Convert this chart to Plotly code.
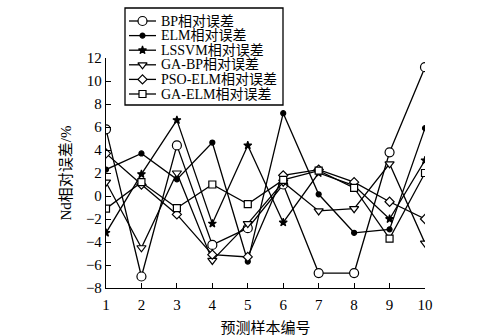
import plotly.graph_objects as go

# Sample index (x axis)
samples = [1, 2, 3, 4, 5, 6, 7, 8, 9, 10]

# Relative error (%) of each model on the Nd prediction samples
bp_err = [5.8, -7.0, 4.4, -4.25, -2.8, 1.0, -6.7, -6.7, 3.8, 11.2]
elm_err = [2.3, 3.7, 1.45, 4.65, -5.7, 7.2, 0.15, -3.2, -2.9, 5.9]
lssvm_err = [-3.2, 1.9, 6.6, -2.4, 4.4, -2.3, 2.0, 0.9, -2.0, 3.1]
gabp_err = [1.2, -4.5, 2.0, -5.6, -2.4, 1.2, -1.3, -1.1, 2.8, -4.1]
psoelm_err = [3.7, 1.0, -1.6, -5.1, -5.3, 1.8, 2.3, 1.2, -0.5, -2.0]
gaelm_err = [-1.1, 1.2, -1.05, 1.0, -0.7, 1.4, 2.2, 0.7, -3.7, 2.0]

series_names = ["BP相对误差", "ELM相对误差", "LSSVM相对误差",
                "GA-BP相对误差", "PSO-ELM相对误差", "GA-ELM相对误差"]
y_ticks = [-8, -6, -4, -2, 0, 2, 4, 6, 8, 10, 12]

FONT = "Liberation Serif, Times New Roman, Noto Sans CJK SC, serif"

W, H = 494, 336
ML, MR, MB = 106, 69, 48
PLOT_TOP = 58            # pixel row of the top of the y axis
AREA_H = H - MB          # plotting area height (top margin is zero)
X_RANGE = [1, 10]
Y_RANGE = [-8, 12]

# Hollow markers are white-filled so the connecting line does not show through
styles = [
    dict(symbol="circle", size=9, fill="white"),
    dict(symbol="circle", size=5, fill="black"),
    dict(symbol="star", size=6, fill="black"),
    dict(symbol="triangle-down", size=8, fill="white"),
    dict(symbol="diamond", size=7, fill="white"),
    dict(symbol="square", size=7, fill="white"),
]
all_series = [bp_err, elm_err, lssvm_err, gabp_err, psoelm_err, gaelm_err]


def marker_of(st):
    return dict(symbol=st["symbol"], size=st["size"], color=st["fill"],
                line=dict(color="black", width=1.2))


fig = go.Figure()
for name, vals, st in zip(series_names, all_series, styles):
    fig.add_trace(go.Scatter(
        x=samples, y=vals, name=name, mode="lines+markers", showlegend=False,
        line=dict(color="black", width=1.3),
        marker=marker_of(st),
    ))

# Legend: framed box in an invisible pixel-unit subplot (x2/y2) spanning the whole area
box_l, box_r, box_t, box_b = 125, 283, 8, 105
row0, row_step = 21, 14.6
samp_l, samp_r, text_x = 129, 156, 159

shapes = [dict(type="rect", xref="x2", yref="y2", x0=box_l, x1=box_r, y0=box_t, y1=box_b,
               line=dict(color="black", width=1.3), fillcolor="white", layer="below")]
annotations = []
for i, (name, st) in enumerate(zip(series_names, styles)):
    py = row0 + i * row_step
    shapes.append(dict(type="line", xref="x2", yref="y2", x0=samp_l, x1=samp_r, y0=py, y1=py,
                       line=dict(color="black", width=1.3), layer="below"))
    annotations.append(dict(xref="x2", yref="y2", x=text_x, y=py, text=name,
                            xanchor="left", yanchor="middle", showarrow=False,
                            font=dict(family=FONT, size=14, color="black")))
    fig.add_trace(go.Scatter(
        x=[(samp_l + samp_r) / 2], y=[py], xaxis="x2", yaxis="y2",
        mode="markers", showlegend=False, hoverinfo="skip", marker=marker_of(st),
    ))

fig.update_layout(
    width=W, height=H,
    margin=dict(l=ML, r=MR, t=0, b=MB),
    paper_bgcolor="white", plot_bgcolor="rgba(0,0,0,0)",
    font=dict(family=FONT, size=15, color="black"),
    showlegend=False,
    shapes=shapes,
    annotations=annotations,
    xaxis=dict(
        range=X_RANGE, tickvals=samples, ticks="inside", ticklen=5,
        tickcolor="black", showline=True, linecolor="black", linewidth=1.3,
        showgrid=False, zeroline=False, ticklabelstandoff=3, automargin=False,
        title=dict(text="预测样本编号", font=dict(family=FONT, size=15), standoff=11),
    ),
    yaxis=dict(
        range=Y_RANGE, tickvals=y_ticks, domain=[0, (AREA_H - PLOT_TOP) / AREA_H],
        ticktext=[("−" + str(-v)) if v < 0 else str(v) for v in y_ticks],
        ticks="inside", ticklen=5, automargin=False,
        tickcolor="black", showline=True, linecolor="black", linewidth=1.3,
        showgrid=False, zeroline=False,
        title=dict(text="Nd相对误差/%", font=dict(family=FONT, size=15), standoff=10),
    ),
    xaxis2=dict(range=[ML, W - MR], domain=[0, 1], anchor="y2",
                visible=False, fixedrange=True),
    yaxis2=dict(range=[AREA_H, 0], domain=[0, 1], anchor="x2",
                visible=False, fixedrange=True),
)

fig.write_html("out.html")
